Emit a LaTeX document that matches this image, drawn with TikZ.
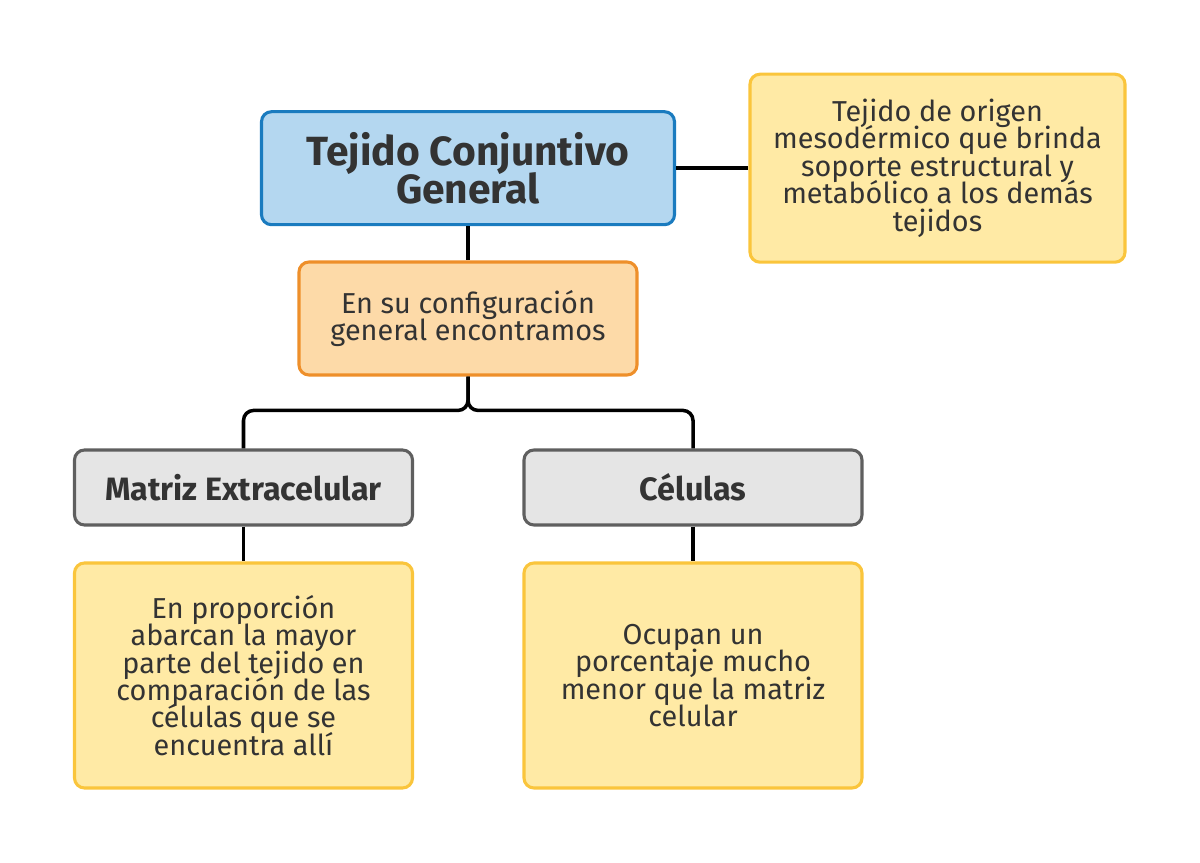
\documentclass[tikz,border=0pt]{standalone}
\usepackage{fontspec}
\setmainfont{Fira Sans}
\usepackage{tikz}
\usetikzlibrary{positioning,calc}
\definecolor{Ink}{HTML}{333333}
\definecolor{BlueFill}{HTML}{B4D7F0}
\definecolor{BlueLine}{HTML}{1A7BBF}
\definecolor{OrangeFill}{HTML}{FDDAA8}
\definecolor{OrangeLine}{HTML}{EE8F2A}
\definecolor{GreyFill}{HTML}{E5E5E5}
\definecolor{GreyLine}{HTML}{5F5F5F}
\definecolor{NoteFill}{HTML}{FFEAA5}
\definecolor{NoteLine}{HTML}{FAC53C}
\newcommand{\tightlines}{\lineskiplimit=-20pt\relax}

\begin{document}
\begin{tikzpicture}[
  box/.style={rounded corners=0.25cm,line width=2.2pt,align=center,inner sep=0pt,text=Ink,font=\fontsize{20.5}{19.5}\selectfont\tightlines},
  topic/.style={box,draw=BlueLine,fill=BlueFill,minimum width=10.325cm,minimum height=2.825cm,font=\fontsize{29}{27}\selectfont\bfseries\tightlines},
  intro/.style={box,draw=OrangeLine,fill=OrangeFill,minimum width=8.45cm,minimum height=2.825cm},
  branch/.style={box,draw=GreyLine,fill=GreyFill,minimum width=8.45cm,minimum height=1.875cm,font=\fontsize{23}{25}\selectfont\bfseries},
  note/.style={box,draw=NoteLine,fill=NoteFill,minimum width=8.45cm,minimum height=5.625cm},
  link/.style={line width=2.5pt,draw=black}
]
\useasboundingbox (0,0) rectangle (30,21.575);
\node[topic] (tejido) at (11.7,17.37) {Tejido Conjuntivo\\General};
\node[note,minimum width=9.375cm,minimum height=4.7cm] (def) at (23.4375,17.37) {Tejido de origen\\mesodérmico que brinda\\soporte estructural y\\metabólico a los demás\\tejidos};
\node[intro] (config) at (11.7,13.6125) {En su configuración\\general encontramos};
\node[branch] (matriz) at (6.0875,9.3875) {Matriz Extracelular};
\node[branch] (celulas) at (17.325,9.3875) {Células};
\node[note] (matrizdesc) at (6.0875,4.6875) {En proporción\\abarcan la mayor\\parte del tejido en\\comparación de las\\células que se\\encuentra allí};
\node[note] (celulasdesc) at (17.325,4.6875) {Ocupan un\\porcentaje mucho\\menor que la matriz\\celular};
\draw[link] (tejido.east) -- (def.west);
\draw[link] (tejido.south) -- (config.north);
\draw[link,rounded corners=0.25cm] (config.south) |- ($(matriz.north)+(0,0.95)$) -- (matriz.north);
\draw[link,rounded corners=0.25cm] (config.south) |- ($(celulas.north)+(0,0.95)$) -- (celulas.north);
\draw[link] (matriz.south) -- (matrizdesc.north);
\draw[link] (celulas.south) -- (celulasdesc.north);
\end{tikzpicture}
\end{document}
